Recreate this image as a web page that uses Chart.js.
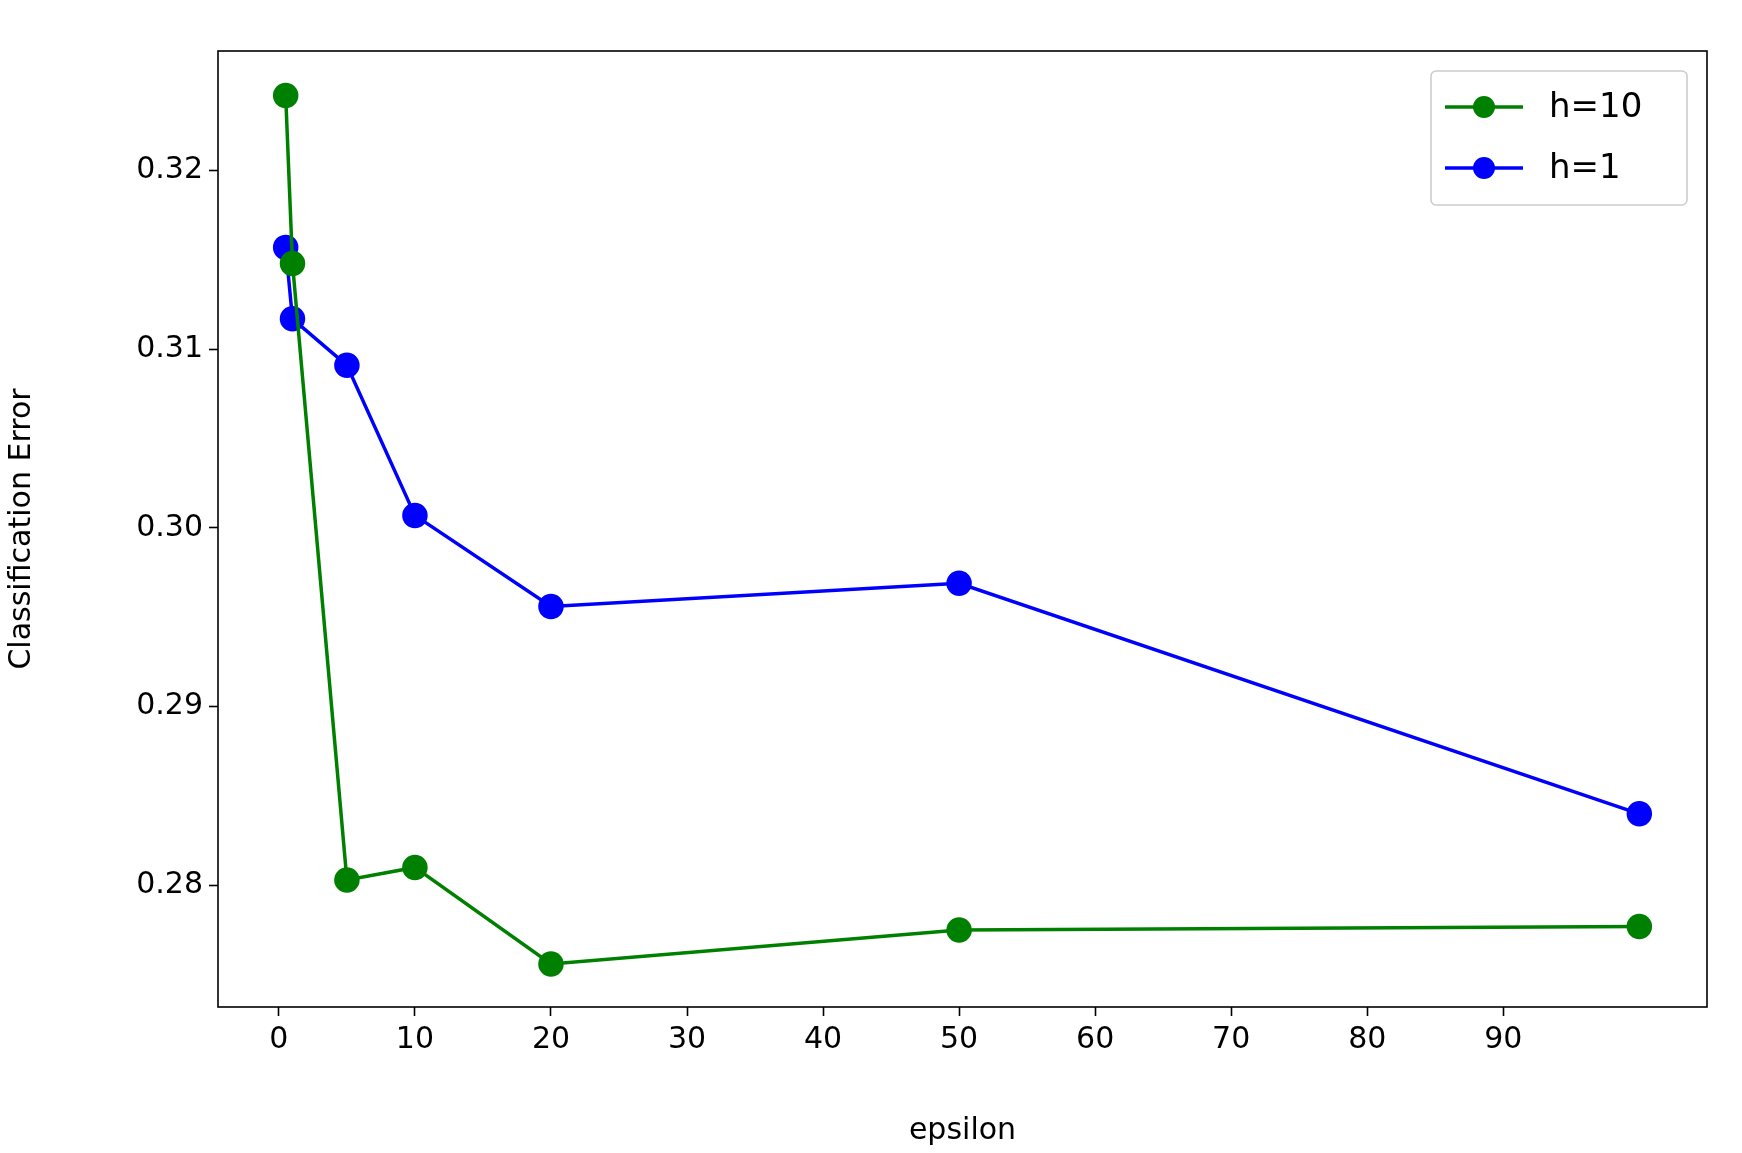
<!DOCTYPE html>
<html><head><meta charset="utf-8">
<script src="https://cdn.jsdelivr.net/npm/chart.js@4"></script>
<style>html,body{margin:0;padding:0;background:#fff}#wrap{width:1742px;height:1153px}</style>
</head><body><div id="wrap"><canvas id="c" width="1742" height="1153"></canvas></div>
<script>
const epsilon = [0.5, 1, 5, 10, 20, 50, 100];
const errH10 = [0.3242, 0.3148, 0.2803, 0.2810, 0.2756, 0.2775, 0.2777];
const errH1 = [0.3157, 0.3117, 0.3091, 0.3007, 0.2956, 0.2969, 0.2840];
const xTicks = [0, 10, 20, 30, 40, 50, 60, 70, 80, 90];
const yTicks = [0.28, 0.29, 0.30, 0.31, 0.32];
const seriesNames = ['h=10', 'h=1'];
const colors = ['#008000', '#0000ff'];

const F = 'DejaVu Sans';
const frame = {
  id: 'frame',
  afterDraw(ch) {
    const a = ch.chartArea, c = ch.ctx;
    c.save();
    c.strokeStyle = '#000'; c.lineWidth = 1.6;
    c.strokeRect(a.left, a.top, a.right - a.left, a.bottom - a.top);
    // legend
    const w = 256, h = 134, x = a.right - w - 20, y = a.top + 20;
    c.fillStyle = 'rgba(255,255,255,0.8)';
    c.strokeStyle = '#ccc'; c.lineWidth = 1.6;
    c.beginPath(); c.roundRect(x, y, w, h, 5); c.fill(); c.stroke();
    seriesNames.forEach((n, i) => {
      const yy = y + 36 + i * 61;
      c.strokeStyle = colors[i]; c.lineWidth = 3.5;
      c.beginPath(); c.moveTo(x + 14, yy); c.lineTo(x + 92, yy); c.stroke();
      c.fillStyle = colors[i];
      c.beginPath(); c.arc(x + 53, yy, 11, 0, Math.PI * 2); c.fill();
      c.fillStyle = '#000'; c.font = '34px ' + F; c.textBaseline = 'middle';
      c.fillText(n, x + 118, yy + 1);
    });
    c.restore();
  }
};

const mk = (vals, i) => ({
  label: seriesNames[i],
  data: epsilon.map((e, k) => ({x: e, y: vals[k]})),
  showLine: true, borderColor: colors[i], backgroundColor: colors[i],
  borderWidth: 3.5, pointRadius: 11, pointHoverRadius: 11
});

new Chart(document.getElementById('c'), {
  type: 'scatter',
  data: {datasets: [mk(errH10, 0), mk(errH1, 1)]},
  plugins: [frame],
  options: {
    responsive: false, animation: false,
    layout: {padding: {top: 51, right: 35, left: 0, bottom: 0}},
    plugins: {legend: {display: false}, tooltip: {enabled: false}},
    scales: {
      x: {
        type: 'linear', min: -4.475, max: 104.975,
        afterBuildTicks: s => { s.ticks = xTicks.map(v => ({value: v})); },
        afterFit: s => { s.height = 146; },
        grid: {drawOnChartArea: false, tickLength: 9, color: '#000', tickWidth: 1.6},
        border: {display: false},
        ticks: {color: '#000', font: {family: F, size: 30}, padding: 6, maxRotation: 0},
        title: {display: true, text: 'epsilon', color: '#000', font: {family: F, size: 30}, padding: {top: 4}}
      },
      y: {
        min: 0.27319, max: 0.32669,
        afterBuildTicks: s => { s.ticks = yTicks.map(v => ({value: v})); },
        afterFit: s => { s.width = 218; },
        grid: {drawOnChartArea: false, tickLength: 9, color: '#000', tickWidth: 1.6},
        border: {display: false},
        ticks: {color: '#000', font: {family: F, size: 30}, padding: 6, callback: v => v.toFixed(2)},
        title: {display: true, text: 'Classification Error', color: '#000', font: {family: F, size: 30}, padding: {bottom: 8}}
      }
    }
  }
});
</script></body></html>
